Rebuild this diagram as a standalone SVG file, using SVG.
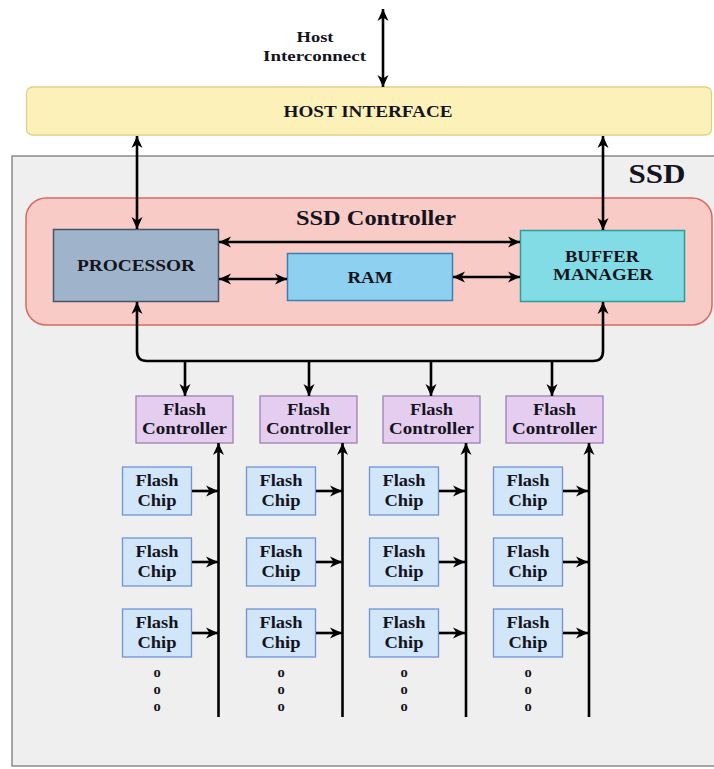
<svg xmlns="http://www.w3.org/2000/svg" width="714" height="769" viewBox="0 0 714 769">
<defs>
<marker id="ah" markerUnits="userSpaceOnUse" markerWidth="14" markerHeight="12" refX="12" refY="6" orient="auto-start-reverse">
<path d="M0,0.5 L12,6 L0,11.5 L3.5,6 z" fill="#000"/>
</marker>
<style>
.t{font-family:"Liberation Serif","Times New Roman",serif;font-weight:bold;fill:#141420;text-anchor:middle}
.ln{fill:none;stroke:#000;stroke-width:2.6}
.fc rect{fill:#e5cdef;stroke:#9d80b3;stroke-width:1.3}
.ch rect{fill:#d2e6fa;stroke:#6f93d4;stroke-width:1.3}
.dot{font-family:"Liberation Serif","Times New Roman",serif;font-weight:bold;font-size:14.5px;fill:#141420;text-anchor:middle}
</style>
</defs>
<rect x="0" y="0" width="714" height="769" fill="#ffffff"/>

<g id="ssd">
<rect x="12" y="156" width="720" height="610" fill="#efefef" stroke="#8a8a8a" stroke-width="1.5"/>
<text class="t" x="657" y="183" font-size="27" textLength="57" lengthAdjust="spacingAndGlyphs">SSD</text>
</g>

<g id="host-label">
<text class="t" x="315" y="42" font-size="15" textLength="37" lengthAdjust="spacingAndGlyphs">Host</text>
<text class="t" x="314.5" y="61" font-size="15" textLength="103" lengthAdjust="spacingAndGlyphs">Interconnect</text>
</g>

<g id="host-interface">
<rect x="26.5" y="87" width="685" height="48" rx="6" fill="#fdf1ba" stroke="#e3d088" stroke-width="1.3"/>
<text class="t" x="368" y="117" font-size="16" textLength="169" lengthAdjust="spacingAndGlyphs">HOST INTERFACE</text>
</g>

<g id="ssd-controller">
<rect x="26" y="198" width="686" height="127" rx="20" fill="#f8cbc6" stroke="#d96a60" stroke-width="1.5"/>
<text class="t" x="376" y="225" font-size="20" textLength="160" lengthAdjust="spacingAndGlyphs">SSD Controller</text>
</g>

<g id="processor">
<rect x="53.5" y="229.5" width="165" height="72" fill="#9fb4ca" stroke="#44546a" stroke-width="1.5"/>
<text class="t" x="136" y="271" font-size="16" textLength="118" lengthAdjust="spacingAndGlyphs">PROCESSOR</text>
</g>

<g id="ram">
<rect x="287.5" y="253.5" width="165" height="47" fill="#8dd0f0" stroke="#3b7fb5" stroke-width="1.5"/>
<text class="t" x="370" y="283" font-size="16" textLength="45" lengthAdjust="spacingAndGlyphs">RAM</text>
</g>

<g id="buffer-manager">
<rect x="520.5" y="230.5" width="164" height="71" fill="#82dce5" stroke="#2a9d96" stroke-width="1.5"/>
<text class="t" x="602" y="262" font-size="16" textLength="74" lengthAdjust="spacingAndGlyphs">BUFFER</text>
<text class="t" x="603" y="280" font-size="16" textLength="100" lengthAdjust="spacingAndGlyphs">MANAGER</text>
</g>

<g id="flash-controller-1" class="fc">
<rect x="136" y="396" width="97" height="47"/>
<text class="t" x="184.5" y="415" font-size="16" textLength="43" lengthAdjust="spacingAndGlyphs">Flash</text>
<text class="t" x="184.5" y="434" font-size="16" textLength="85" lengthAdjust="spacingAndGlyphs">Controller</text>
</g>
<g id="flash-controller-2" class="fc">
<rect x="260" y="396" width="97" height="47"/>
<text class="t" x="308.5" y="415" font-size="16" textLength="43" lengthAdjust="spacingAndGlyphs">Flash</text>
<text class="t" x="308.5" y="434" font-size="16" textLength="85" lengthAdjust="spacingAndGlyphs">Controller</text>
</g>
<g id="flash-controller-3" class="fc">
<rect x="383" y="396" width="97" height="47"/>
<text class="t" x="431.5" y="415" font-size="16" textLength="43" lengthAdjust="spacingAndGlyphs">Flash</text>
<text class="t" x="431.5" y="434" font-size="16" textLength="85" lengthAdjust="spacingAndGlyphs">Controller</text>
</g>
<g id="flash-controller-4" class="fc">
<rect x="506" y="396" width="97" height="47"/>
<text class="t" x="554.5" y="415" font-size="16" textLength="43" lengthAdjust="spacingAndGlyphs">Flash</text>
<text class="t" x="554.5" y="434" font-size="16" textLength="85" lengthAdjust="spacingAndGlyphs">Controller</text>
</g>

<g id="flash-chips">
<g id="chip-1-1" class="ch"><rect x="122.5" y="467" width="69" height="48"/><text class="t" x="157" y="486" font-size="16" textLength="43" lengthAdjust="spacingAndGlyphs">Flash</text><text class="t" x="157" y="506" font-size="16" textLength="39" lengthAdjust="spacingAndGlyphs">Chip</text></g>
<g id="chip-1-2" class="ch"><rect x="122.5" y="538" width="69" height="48"/><text class="t" x="157" y="557" font-size="16" textLength="43" lengthAdjust="spacingAndGlyphs">Flash</text><text class="t" x="157" y="577" font-size="16" textLength="39" lengthAdjust="spacingAndGlyphs">Chip</text></g>
<g id="chip-1-3" class="ch"><rect x="122.5" y="609" width="69" height="48"/><text class="t" x="157" y="628" font-size="16" textLength="43" lengthAdjust="spacingAndGlyphs">Flash</text><text class="t" x="157" y="648" font-size="16" textLength="39" lengthAdjust="spacingAndGlyphs">Chip</text></g>

<g id="chip-2-1" class="ch"><rect x="246.5" y="467" width="69" height="48"/><text class="t" x="281" y="486" font-size="16" textLength="43" lengthAdjust="spacingAndGlyphs">Flash</text><text class="t" x="281" y="506" font-size="16" textLength="39" lengthAdjust="spacingAndGlyphs">Chip</text></g>
<g id="chip-2-2" class="ch"><rect x="246.5" y="538" width="69" height="48"/><text class="t" x="281" y="557" font-size="16" textLength="43" lengthAdjust="spacingAndGlyphs">Flash</text><text class="t" x="281" y="577" font-size="16" textLength="39" lengthAdjust="spacingAndGlyphs">Chip</text></g>
<g id="chip-2-3" class="ch"><rect x="246.5" y="609" width="69" height="48"/><text class="t" x="281" y="628" font-size="16" textLength="43" lengthAdjust="spacingAndGlyphs">Flash</text><text class="t" x="281" y="648" font-size="16" textLength="39" lengthAdjust="spacingAndGlyphs">Chip</text></g>

<g id="chip-3-1" class="ch"><rect x="369.5" y="467" width="69" height="48"/><text class="t" x="404" y="486" font-size="16" textLength="43" lengthAdjust="spacingAndGlyphs">Flash</text><text class="t" x="404" y="506" font-size="16" textLength="39" lengthAdjust="spacingAndGlyphs">Chip</text></g>
<g id="chip-3-2" class="ch"><rect x="369.5" y="538" width="69" height="48"/><text class="t" x="404" y="557" font-size="16" textLength="43" lengthAdjust="spacingAndGlyphs">Flash</text><text class="t" x="404" y="577" font-size="16" textLength="39" lengthAdjust="spacingAndGlyphs">Chip</text></g>
<g id="chip-3-3" class="ch"><rect x="369.5" y="609" width="69" height="48"/><text class="t" x="404" y="628" font-size="16" textLength="43" lengthAdjust="spacingAndGlyphs">Flash</text><text class="t" x="404" y="648" font-size="16" textLength="39" lengthAdjust="spacingAndGlyphs">Chip</text></g>

<g id="chip-4-1" class="ch"><rect x="493.5" y="467" width="69" height="48"/><text class="t" x="528" y="486" font-size="16" textLength="43" lengthAdjust="spacingAndGlyphs">Flash</text><text class="t" x="528" y="506" font-size="16" textLength="39" lengthAdjust="spacingAndGlyphs">Chip</text></g>
<g id="chip-4-2" class="ch"><rect x="493.5" y="538" width="69" height="48"/><text class="t" x="528" y="557" font-size="16" textLength="43" lengthAdjust="spacingAndGlyphs">Flash</text><text class="t" x="528" y="577" font-size="16" textLength="39" lengthAdjust="spacingAndGlyphs">Chip</text></g>
<g id="chip-4-3" class="ch"><rect x="493.5" y="609" width="69" height="48"/><text class="t" x="528" y="628" font-size="16" textLength="43" lengthAdjust="spacingAndGlyphs">Flash</text><text class="t" x="528" y="648" font-size="16" textLength="39" lengthAdjust="spacingAndGlyphs">Chip</text></g>
</g>

<g id="ellipsis">
<text class="dot" x="157" y="677">o</text><text class="dot" x="157" y="694">o</text><text class="dot" x="157" y="711">o</text>
<text class="dot" x="281" y="677">o</text><text class="dot" x="281" y="694">o</text><text class="dot" x="281" y="711">o</text>
<text class="dot" x="404" y="677">o</text><text class="dot" x="404" y="694">o</text><text class="dot" x="404" y="711">o</text>
<text class="dot" x="528" y="677">o</text><text class="dot" x="528" y="694">o</text><text class="dot" x="528" y="711">o</text>
</g>

<g id="connectors">
<line class="ln" x1="383" y1="9" x2="383" y2="87" marker-start="url(#ah)" marker-end="url(#ah)"/>
<line class="ln" x1="137" y1="136" x2="137" y2="229" marker-start="url(#ah)" marker-end="url(#ah)"/>
<line class="ln" x1="603" y1="136" x2="603" y2="230" marker-start="url(#ah)" marker-end="url(#ah)"/>
<line class="ln" x1="219" y1="242" x2="520" y2="242" marker-start="url(#ah)" marker-end="url(#ah)"/>
<line class="ln" x1="219" y1="279" x2="287" y2="279" marker-start="url(#ah)" marker-end="url(#ah)"/>
<line class="ln" x1="453" y1="277" x2="520" y2="277" marker-start="url(#ah)" marker-end="url(#ah)"/>
<path class="ln" d="M137,302 L137,351 Q137,361 147,361 L593,361 Q603,361 603,351 L603,302" marker-start="url(#ah)" marker-end="url(#ah)"/>
<line class="ln" x1="185" y1="361" x2="185" y2="396" marker-end="url(#ah)"/>
<line class="ln" x1="309" y1="361" x2="309" y2="396" marker-end="url(#ah)"/>
<line class="ln" x1="431" y1="361" x2="431" y2="396" marker-end="url(#ah)"/>
<line class="ln" x1="552" y1="361" x2="552" y2="396" marker-end="url(#ah)"/>
<line class="ln" x1="218.5" y1="717" x2="218.5" y2="443" marker-end="url(#ah)"/>
<line class="ln" x1="342.5" y1="717" x2="342.5" y2="443" marker-end="url(#ah)"/>
<line class="ln" x1="466" y1="717" x2="466" y2="443" marker-end="url(#ah)"/>
<line class="ln" x1="589" y1="717" x2="589" y2="443" marker-end="url(#ah)"/>
<line class="ln" x1="192" y1="491" x2="218" y2="491" marker-end="url(#ah)"/>
<line class="ln" x1="192" y1="562" x2="218" y2="562" marker-end="url(#ah)"/>
<line class="ln" x1="192" y1="633" x2="218" y2="633" marker-end="url(#ah)"/>
<line class="ln" x1="316" y1="491" x2="342" y2="491" marker-end="url(#ah)"/>
<line class="ln" x1="316" y1="562" x2="342" y2="562" marker-end="url(#ah)"/>
<line class="ln" x1="316" y1="633" x2="342" y2="633" marker-end="url(#ah)"/>
<line class="ln" x1="439" y1="491" x2="465" y2="491" marker-end="url(#ah)"/>
<line class="ln" x1="439" y1="562" x2="465" y2="562" marker-end="url(#ah)"/>
<line class="ln" x1="439" y1="633" x2="465" y2="633" marker-end="url(#ah)"/>
<line class="ln" x1="563" y1="491" x2="588" y2="491" marker-end="url(#ah)"/>
<line class="ln" x1="563" y1="562" x2="588" y2="562" marker-end="url(#ah)"/>
<line class="ln" x1="563" y1="633" x2="588" y2="633" marker-end="url(#ah)"/>
</g>
</svg>
